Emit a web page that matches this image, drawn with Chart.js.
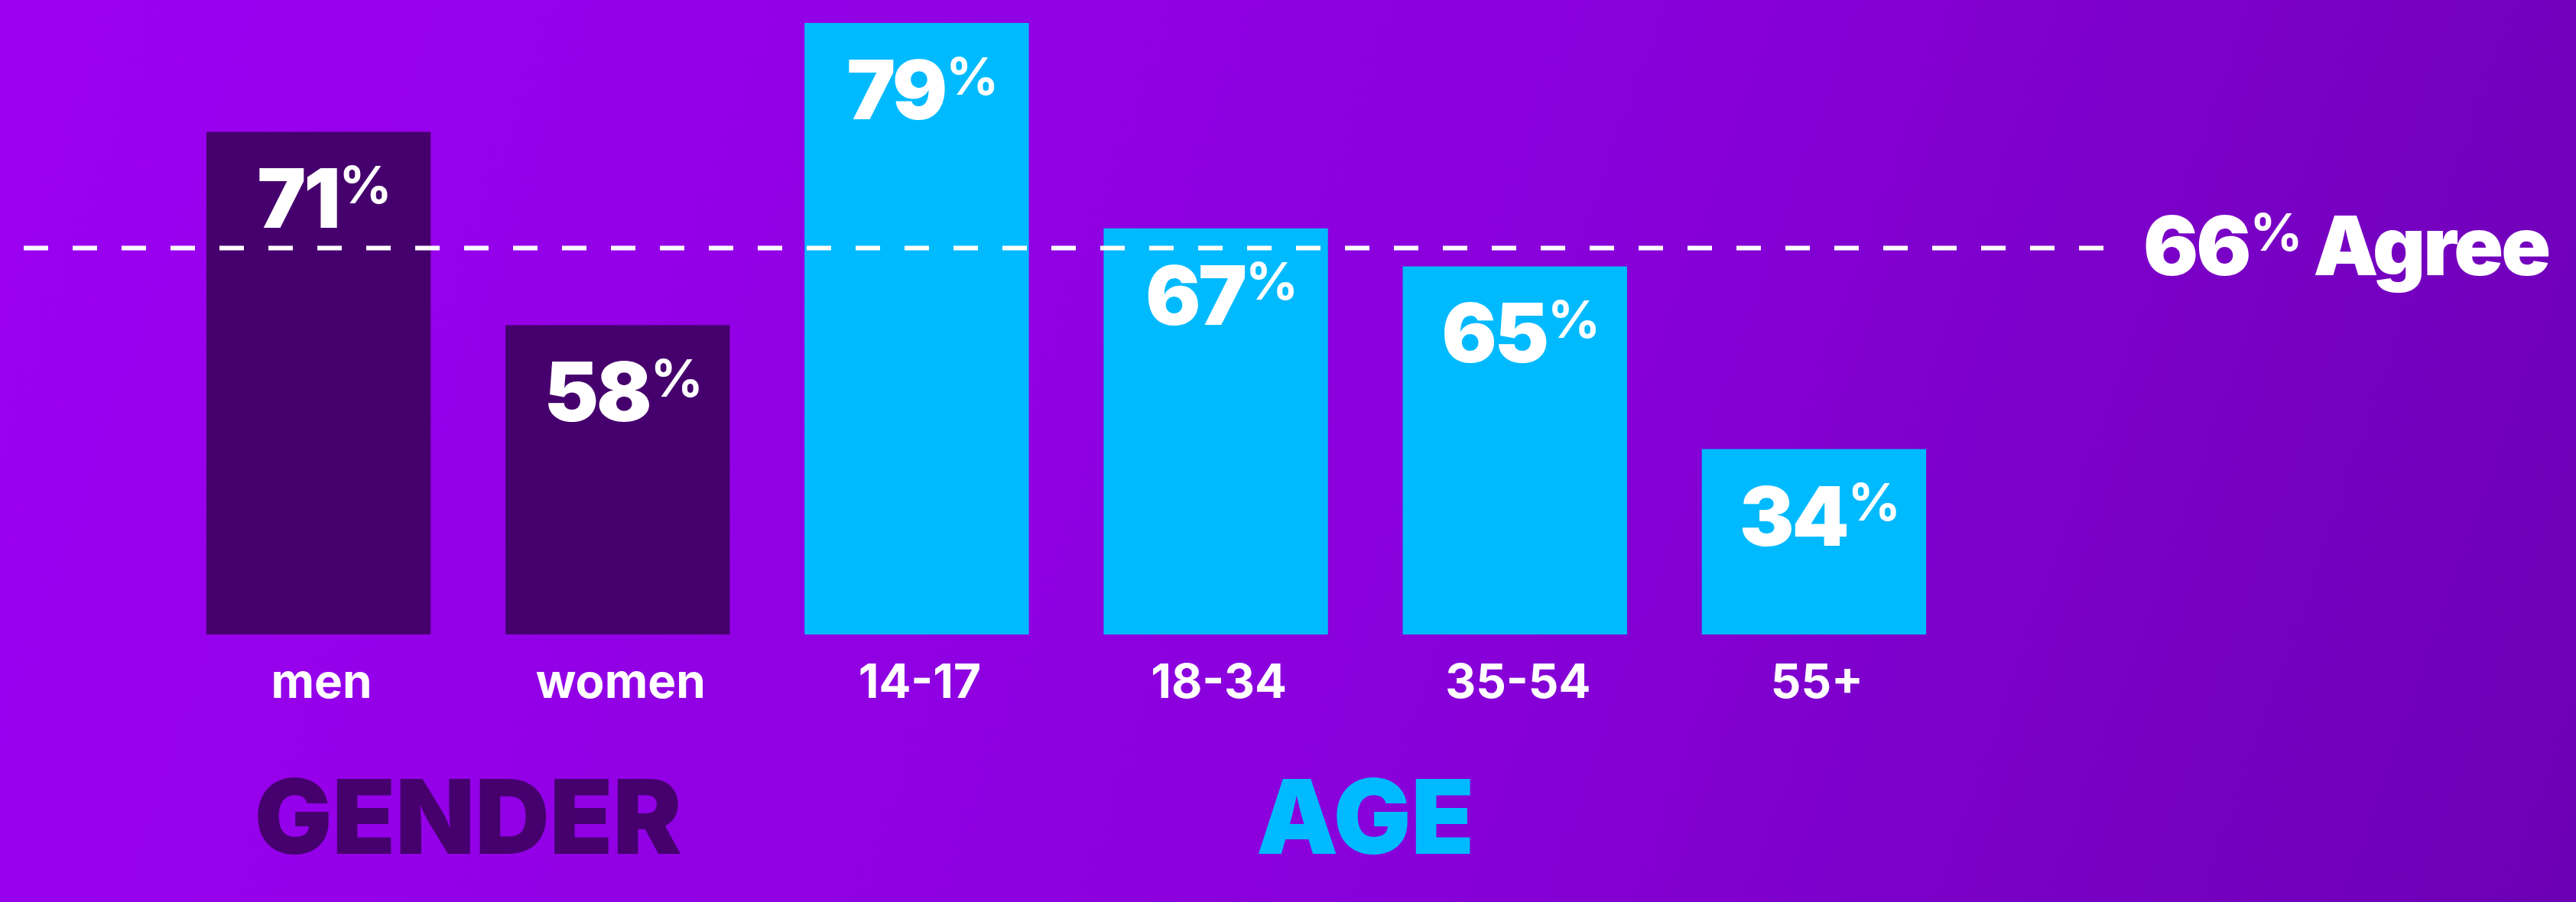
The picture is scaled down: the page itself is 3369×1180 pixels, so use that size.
<!DOCTYPE html>
<html>
<head>
<meta charset="utf-8">
<script src="https://cdn.jsdelivr.net/npm/chart.js@4.4.1/dist/chart.umd.min.js"></script>
<style>
html,body{margin:0;padding:0;background:#8a00dc;overflow:hidden}
#wrap{width:3369px;height:1180px;position:relative}
canvas{display:block}
</style>
</head>
<body>
<div id="wrap"><canvas id="c" width="3369" height="1180"></canvas></div>
<script>
// ---- data ----
const categories = ['men', 'women', '14-17', '18-34', '35-54', '55+'];
const agreePercent = [71, 58, 79, 67, 65, 34];          // printed values
const barHeights = [82.2, 50.6, 100, 66.4, 60.2, 30.3];  // drawn bar heights (tallest bar = 100)
const groupNames = ['GENDER', 'AGE'];
const groupMembers = [[0, 1], [2, 3, 4, 5]];
const overallPercent = 66;
const overallLevel = 63.2;                               // drawn height of the dashed average line
const overallWord = 'Agree';

// ---- styles ----
const DARK = '#46006e';
const CYAN = '#00baff';
const groupColors = [DARK, CYAN];
const barColors = categories.map((c, i) => groupColors[groupMembers.findIndex(g => g.includes(i))]);
const FONT = 'Inter, "Noto Sans", "DejaVu Sans", sans-serif';
const NUM = 107, PCT = 68, GAP = 1;

const bgPlugin = {
  id: 'bg',
  beforeDraw(chart) {
    const { ctx, width, height } = chart;
    const g = ctx.createLinearGradient(0, 0, width, height);
    g.addColorStop(0, '#9c00f2');
    g.addColorStop(0.55, '#8a00dc');
    g.addColorStop(1, '#6c00b4');
    ctx.save();
    ctx.fillStyle = g;
    ctx.fillRect(0, 0, width, height);
    ctx.restore();
  }
};

function setNum(ctx) { ctx.font = `900 ${NUM}px ${FONT}`; ctx.letterSpacing = '-3px'; }
function setPct(ctx) { ctx.font = `700 ${PCT}px ${FONT}`; ctx.letterSpacing = '0px'; }
function pctWidth(ctx, numText) {
  setNum(ctx); const w1 = ctx.measureText(numText).width;
  setPct(ctx); const w2 = ctx.measureText('%').width;
  return w1 + GAP + w2;
}
function drawPct(ctx, numText, xLeft, baseline) {
  ctx.textAlign = 'left';
  ctx.textBaseline = 'alphabetic';
  setNum(ctx);
  const w1 = ctx.measureText(numText).width;
  ctx.fillText(numText, xLeft, baseline);
  setPct(ctx);
  const w2 = ctx.measureText('%').width;
  ctx.fillText('%', xLeft + w1 + GAP, baseline - NUM * 0.727 - 4 + PCT * 0.727);
  ctx.letterSpacing = '0px';
  return w1 + GAP + w2;
}

const overlayPlugin = {
  id: 'overlay',
  afterDatasetsDraw(chart) {
    const { ctx } = chart;
    const xs = chart.scales.x, ys = chart.scales.y;
    const meta = chart.getDatasetMeta(0);
    ctx.save();
    ctx.fillStyle = '#ffffff';

    // value labels inside bars
    meta.data.forEach((bar, i) => {
      const txt = String(agreePercent[i]);
      const w = pctWidth(ctx, txt);
      drawPct(ctx, txt, bar.x - w / 2 + 8, bar.y + 126);
    });

    // dashed average line
    const ly = ys.getPixelForValue(overallLevel);
    ctx.strokeStyle = '#ffffff';
    ctx.lineWidth = 6;
    ctx.setLineDash([32, 32]);
    ctx.beginPath();
    ctx.moveTo(31, ly);
    ctx.lineTo(2752, ly);
    ctx.stroke();
    ctx.setLineDash([]);

    // "66% Agree"
    const w = drawPct(ctx, String(overallPercent), 2803, ly + 36);
    ctx.font = `900 ${NUM}px ${FONT}`;
    ctx.letterSpacing = '-3px';
    ctx.textAlign = 'left';
    ctx.fillText(overallWord, 2803 + w + 14, ly + 36);
    ctx.letterSpacing = '0px';

    // category labels
    ctx.font = `700 62px ${FONT}`;
    ctx.textAlign = 'center';
    ctx.textBaseline = 'alphabetic';
    categories.forEach((c, i) => {
      ctx.fillText(c, xs.getPixelForValue(i) + 4, 913);
    });

    // group labels
    ctx.font = `900 135px ${FONT}`;
    groupNames.forEach((g, gi) => {
      const m = groupMembers[gi];
      const cx = m.reduce((s, i) => s + xs.getPixelForValue(i), 0) / m.length;
      ctx.fillStyle = groupColors[gi];
      ctx.fillText(g, cx, 1117);
    });
    ctx.restore();
  }
};

function build() {
  new Chart(document.getElementById('c'), {
    type: 'bar',
    data: {
      labels: categories,
      datasets: [{
        data: barHeights,
        backgroundColor: barColors,
        borderWidth: 0,
        barPercentage: 0.75,
        categoryPercentage: 1.0
      }]
    },
    options: {
      responsive: false,
      animation: false,
      layout: { padding: { left: 221, right: 801, top: 30, bottom: 350 } },
      scales: {
        x: { display: false, offset: true },
        y: { display: false, min: 0, max: 100 }
      },
      plugins: { legend: { display: false }, tooltip: { enabled: false } }
    },
    plugins: [bgPlugin, overlayPlugin]
  });
}
if (document.fonts && document.fonts.load) {
  Promise.all([
    document.fonts.load(`900 107px Inter`),
    document.fonts.load(`700 62px Inter`)
  ]).then(build, build);
} else { build(); }
</script>
</body>
</html>
